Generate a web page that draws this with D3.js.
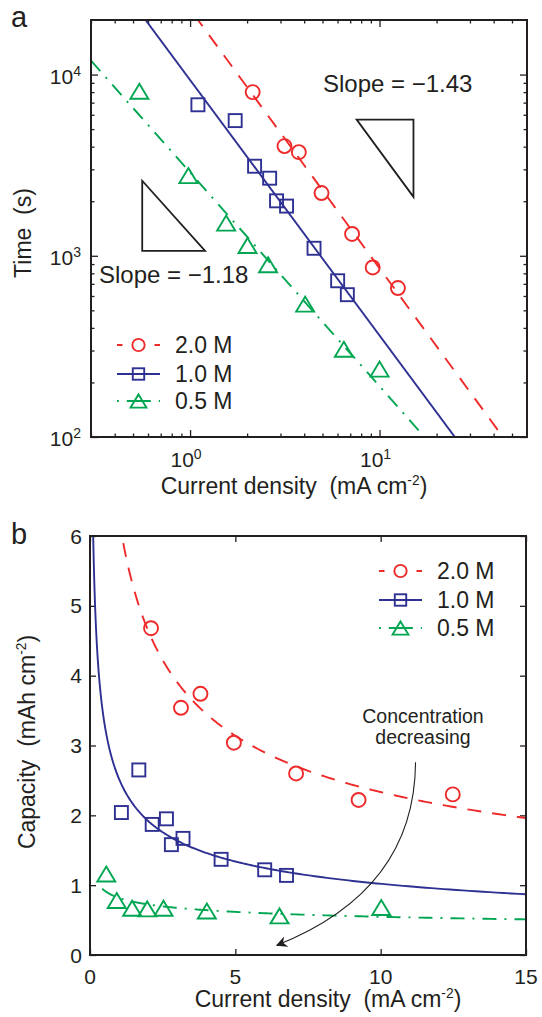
<!DOCTYPE html>
<html>
<head>
<meta charset="utf-8">
<script src="https://cdn.jsdelivr.net/npm/d3@7"></script>
<style>
  html, body { margin: 0; padding: 0; background: #fff; }
  svg { display: block; }
  text { font-family: "Liberation Sans", Arial, Helvetica, sans-serif; fill: #231f20; white-space: pre; }
</style>
</head>
<body>
<svg id="chart" width="542" height="1017"></svg>
<script>
// ---------------- DATA ----------------
const seriesNames = ["2.0 M", "1.0 M", "0.5 M"];
const seriesColors = ["#ee2a2a", "#2e3192", "#00a651"];

// Panel a: time vs current density (log-log)
const currentA_2M = [2.14, 3.15, 3.75, 4.94, 7.16, 9.2, 12.5];
const timeA_2M    = [8000, 4030, 3730, 2220, 1320, 862, 664];
const currentA_1M = [1.10, 1.73, 2.19, 2.63, 2.86, 3.23, 4.51, 6.01, 6.76];
const timeA_1M    = [6810, 5570, 3120, 2680, 2010, 1880, 1100, 728, 610];
const currentA_05M = [0.54, 0.98, 1.55, 2.01, 2.58, 4.05, 6.48, 10.0];
const timeA_05M    = [8090, 2770, 1515, 1140, 892, 541, 305, 237];

// Panel a fit lines: log10(t) = intercept + slope * log10(I)
const fitSlopeA     = [-1.43, -1.41, -1.18];
const fitInterceptA = [4.361, 3.970, 3.460];

// Panel b: capacity vs current density
const currentB_2M = [2.10, 3.13, 3.80, 4.95, 7.09, 9.24, 12.48];
const capB_2M     = [4.68, 3.54, 3.74, 3.04, 2.60, 2.22, 2.30];
const currentB_1M = [1.08, 1.68, 2.14, 2.63, 2.80, 3.20, 4.51, 6.01, 6.76];
const capB_1M     = [2.04, 2.65, 1.87, 1.95, 1.58, 1.67, 1.37, 1.22, 1.14];
const currentB_05M = [0.56, 0.92, 1.45, 1.97, 2.53, 4.02, 6.52, 10.02];
const capB_05M     = [1.16, 0.78, 0.67, 0.66, 0.67, 0.63, 0.56, 0.68];

// Panel b fit curves: C = coef * I^exponent, drawn from start to 15
const fitCoefB  = [6.25, 2.52, 0.817];
const fitExpB   = [-0.428, -0.393, -0.174];
const fitStartB = [1.0, 0.08, 0.42];

// Axes
const xDomainA = [0.3, 60];
const yDomainA = [100, 20000];
const xMajorA = [1, 10];
const yMajorA = [100, 1000, 10000];
const xMinorA = [0.3,0.4,0.5,0.6,0.7,0.8,0.9,2,3,4,5,6,7,8,9,20,30,40,50];
const yMinorA = [200,300,400,500,600,700,800,900,2000,3000,4000,5000,6000,7000,8000,9000];
const xDomainB = [0, 15];
const yDomainB = [0, 6];
const xTicksB = [0, 5, 10, 15];
const yTicksB = [0, 1, 2, 3, 4, 5, 6];

// Slope triangles (data coords of panel a)
const slopeTriUpper = [[7.57, 5640], [15.1, 5640], [15.1, 2113]];
const slopeTriLower = [[0.559, 2594], [0.559, 1063], [1.2, 1063]];
const slopeLabels = ["Slope = \u22121.43", "Slope = \u22121.18"];

// Annotation arrow: cubic Bezier (start, control 1, control 2, tip) in panel b data coords
const arrowX = [11.2, 11.18, 9.46, 6.43];
const arrowY = [2.76, 1.50, 0.64, 0.14];

// ---------------- DRAW ----------------
const svg = d3.select("#chart");
const ink = "#231f20";
const dashes = ["14,11", null, "14,8,2,8"];
const legendDashes = ["5.5,32,5.5", null, "1.8,8,24,8,1.8"];

const defs = svg.append("defs");
defs.append("marker").attr("id", "arrowhead")
  .attr("viewBox", "0 0 10 10").attr("refX", 9).attr("refY", 5)
  .attr("markerWidth", 11).attr("markerHeight", 11).attr("markerUnits", "userSpaceOnUse")
  .attr("orient", "auto")
  .append("path").attr("d", "M0,0 L10,5 L0,10 L3,5 Z").attr("fill", ink);

function drawMarker(g, type, cx, cy, color, s) {
  s = s || 1;
  if (type === 0) {
    g.append("circle").attr("cx", cx).attr("cy", cy).attr("r", 7 * s)
      .attr("fill", "none").attr("stroke", color).attr("stroke-width", 1.9);
  } else if (type === 1) {
    const h = 6.5 * s;
    g.append("rect").attr("x", cx - h).attr("y", cy - h).attr("width", 2 * h).attr("height", 2 * h)
      .attr("fill", "none").attr("stroke", color).attr("stroke-width", 1.9);
  } else {
    const w = 9 * s, hh = 7.5 * s;
    g.append("path").attr("d", `M${cx},${cy - hh} L${cx + w},${cy + hh} L${cx - w},${cy + hh} Z`)
      .attr("fill", "none").attr("stroke", color).attr("stroke-width", 1.9).attr("stroke-linejoin", "miter");
  }
}

function frameAndClip(id, x0, y0, x1, y1) {
  defs.append("clipPath").attr("id", id).append("rect")
    .attr("x", x0).attr("y", y0).attr("width", x1 - x0).attr("height", y1 - y0);
}

function supLabel(g, x, y, base, sup, anchor, fs, sfs) {
  const t = g.append("text").attr("x", x).attr("y", y).attr("text-anchor", anchor)
    .attr("font-size", fs);
  t.append("tspan").text(base);
  t.append("tspan").attr("font-size", sfs).attr("dy", -8).text(sup);
  return t;
}

function axisLabel(g, x, y, rotate, main, sup, tail, fs) {
  const t = g.append("text").attr("text-anchor", "middle").attr("font-size", fs)
    .attr("transform", rotate ? `translate(${x},${y}) rotate(-90)` : `translate(${x},${y})`);
  t.append("tspan").text(main);
  if (sup) {
    t.append("tspan").attr("font-size", fs * 0.6).attr("dy", -9).text(sup);
    t.append("tspan").attr("dy", 9).text(tail);
  }
  return t;
}

function ticksAxis(g, axisGen, transform) {
  const ax = g.append("g").attr("transform", transform).call(axisGen);
  ax.select(".domain").remove();
  ax.selectAll("text").remove();
  ax.selectAll("line").attr("stroke", ink).attr("stroke-width", 1.3);
}

function legend(g, lx0, lx1, ys, textX, fs) {
  seriesNames.forEach((name, i) => {
    const y = ys[i];
    g.append("line").attr("x1", lx0).attr("x2", lx1).attr("y1", y).attr("y2", y)
      .attr("stroke", seriesColors[i]).attr("stroke-width", 1.9)
      .attr("stroke-dasharray", legendDashes[i]);
    drawMarker(g, i, (lx0 + lx1) / 2, y, seriesColors[i], 0.88);
    g.append("text").attr("x", textX).attr("y", y + 8).attr("font-size", fs).text(name);
  });
}

// ======== Panel a ========
const A = { l: 91, r: 527, t: 20, b: 437 };
const xA = d3.scaleLog().domain(xDomainA).range([A.l, A.r]);
const yA = d3.scaleLog().domain(yDomainA).range([A.b, A.t]);
const gA = svg.append("g");
frameAndClip("clipA", A.l, A.t, A.r, A.b);

ticksAxis(gA, d3.axisBottom(xA).tickValues(xMajorA).tickSizeInner(-7).tickSizeOuter(0), `translate(0,${A.b})`);
ticksAxis(gA, d3.axisBottom(xA).tickValues(xMinorA).tickSizeInner(-3.5).tickSizeOuter(0), `translate(0,${A.b})`);
ticksAxis(gA, d3.axisTop(xA).tickValues(xMajorA).tickSizeInner(-7).tickSizeOuter(0), `translate(0,${A.t})`);
ticksAxis(gA, d3.axisTop(xA).tickValues(xMinorA).tickSizeInner(-3.5).tickSizeOuter(0), `translate(0,${A.t})`);
ticksAxis(gA, d3.axisLeft(yA).tickValues(yMajorA).tickSizeInner(-7).tickSizeOuter(0), `translate(${A.l},0)`);
ticksAxis(gA, d3.axisLeft(yA).tickValues(yMinorA).tickSizeInner(-3.5).tickSizeOuter(0), `translate(${A.l},0)`);
ticksAxis(gA, d3.axisRight(yA).tickValues(yMajorA).tickSizeInner(-7).tickSizeOuter(0), `translate(${A.r},0)`);
ticksAxis(gA, d3.axisRight(yA).tickValues(yMinorA).tickSizeInner(-3.5).tickSizeOuter(0), `translate(${A.r},0)`);

xMajorA.forEach(v => supLabel(gA, xA(v) - 4, A.b + 30, "10", String(Math.round(Math.log10(v))), "middle", 21, 14));
yMajorA.forEach(v => supLabel(gA, A.l - 10, yA(v) + 9, "10", String(Math.round(Math.log10(v))), "end", 21, 14));

const lineA = d3.line().x(d => xA(d[0])).y(d => yA(d[1]));
const plotA = gA.append("g").attr("clip-path", "url(#clipA)");
fitSlopeA.forEach((s, i) => {
  const pts = xDomainA.map(x => [x, Math.pow(10, fitInterceptA[i] + s * Math.log10(x))]);
  plotA.append("path").attr("d", lineA(pts)).attr("fill", "none")
    .attr("stroke", seriesColors[i]).attr("stroke-width", 1.9)
    .attr("stroke-dasharray", dashes[i]);
});
const dataA = [[currentA_2M, timeA_2M], [currentA_1M, timeA_1M], [currentA_05M, timeA_05M]];
dataA.forEach((d, i) => {
  d[0].forEach((x, j) => drawMarker(plotA, i, xA(x), yA(d[1][j]), seriesColors[i]));
});

[slopeTriUpper, slopeTriLower].forEach(tri => {
  gA.append("path").attr("d", lineA(tri) + "Z").attr("fill", "none")
    .attr("stroke", ink).attr("stroke-width", 1.8).attr("stroke-linejoin", "miter");
});
gA.append("text").attr("x", 323).attr("y", 92).attr("font-size", 24).text(slopeLabels[0]);
gA.append("text").attr("x", 99).attr("y", 283).attr("font-size", 24).text(slopeLabels[1]);

legend(gA, 117, 160, [345, 374, 401], 175, 23);

gA.append("rect").attr("x", A.l).attr("y", A.t).attr("width", A.r - A.l).attr("height", A.b - A.t)
  .attr("fill", "none").attr("stroke", ink).attr("stroke-width", 2);

axisLabel(gA, 294, 494, false, "Current density  (mA cm", "-2", ")", 23);
axisLabel(gA, 31, 233, true, "Time  (s)", null, null, 23);
gA.append("text").attr("x", 11).attr("y", 27).attr("font-size", 29).text("a");

// ======== Panel b ========
const B = { l: 90, r: 526, t: 536, b: 955 };
const xB = d3.scaleLinear().domain(xDomainB).range([B.l, B.r]);
const yB = d3.scaleLinear().domain(yDomainB).range([B.b, B.t]);
const gB = svg.append("g");
frameAndClip("clipB", B.l, B.t, B.r, B.b);

ticksAxis(gB, d3.axisBottom(xB).tickValues(xTicksB).tickSizeInner(-6).tickSizeOuter(0), `translate(0,${B.b})`);
ticksAxis(gB, d3.axisTop(xB).tickValues(xTicksB).tickSizeInner(-6).tickSizeOuter(0), `translate(0,${B.t})`);
ticksAxis(gB, d3.axisLeft(yB).tickValues(yTicksB).tickSizeInner(-6).tickSizeOuter(0), `translate(${B.l},0)`);
ticksAxis(gB, d3.axisRight(yB).tickValues(yTicksB).tickSizeInner(-6).tickSizeOuter(0), `translate(${B.r},0)`);

xTicksB.forEach(v => gB.append("text").attr("x", xB(v)).attr("y", B.b + 29)
  .attr("text-anchor", "middle").attr("font-size", 21).text(v));
yTicksB.forEach(v => gB.append("text").attr("x", B.l - 8).attr("y", yB(v) + 7.5)
  .attr("text-anchor", "end").attr("font-size", 21).text(v));

const plotB = gB.append("g").attr("clip-path", "url(#clipB)");
const lineB = d3.line().x(d => xB(d[0])).y(d => yB(d[1]));
fitCoefB.forEach((c, i) => {
  const x0 = fitStartB[i], x1 = xDomainB[1];
  const pts = d3.range(0, 301).map(k => {
    const x = x0 * Math.pow(x1 / x0, k / 300);
    return [x, c * Math.pow(x, fitExpB[i])];
  });
  plotB.append("path").attr("d", lineB(pts)).attr("fill", "none")
    .attr("stroke", seriesColors[i]).attr("stroke-width", 1.9)
    .attr("stroke-dasharray", dashes[i]);
});
const dataB = [[currentB_2M, capB_2M], [currentB_1M, capB_1M], [currentB_05M, capB_05M]];
dataB.forEach((d, i) => {
  d[0].forEach((x, j) => drawMarker(plotB, i, xB(x), yB(d[1][j]), seriesColors[i]));
});

// annotation arrow
const ap = d3.path();
ap.moveTo(xB(arrowX[0]), yB(arrowY[0]));
ap.bezierCurveTo(xB(arrowX[1]), yB(arrowY[1]), xB(arrowX[2]), yB(arrowY[2]), xB(arrowX[3]), yB(arrowY[3]));
gB.append("path").attr("d", ap.toString())
  .attr("fill", "none").attr("stroke", ink).attr("stroke-width", 1.1)
  .attr("marker-end", "url(#arrowhead)");
gB.append("text").attr("x", 423).attr("y", 723).attr("text-anchor", "middle").attr("font-size", 19.5).text("Concentration");
gB.append("text").attr("x", 423).attr("y", 744).attr("text-anchor", "middle").attr("font-size", 19.5).text("decreasing");

legend(gB, 379, 422, [571, 600, 628], 437, 23);

gB.append("rect").attr("x", B.l).attr("y", B.t).attr("width", B.r - B.l).attr("height", B.b - B.t)
  .attr("fill", "none").attr("stroke", ink).attr("stroke-width", 2);

axisLabel(gB, 328, 1007, false, "Current density  (mA cm", "-2", ")", 23);
axisLabel(gB, 35, 742, true, "Capacity  (mAh cm", "-2", ")", 23);
gB.append("text").attr("x", 11).attr("y", 544).attr("font-size", 29).text("b");
</script>
</body>
</html>
